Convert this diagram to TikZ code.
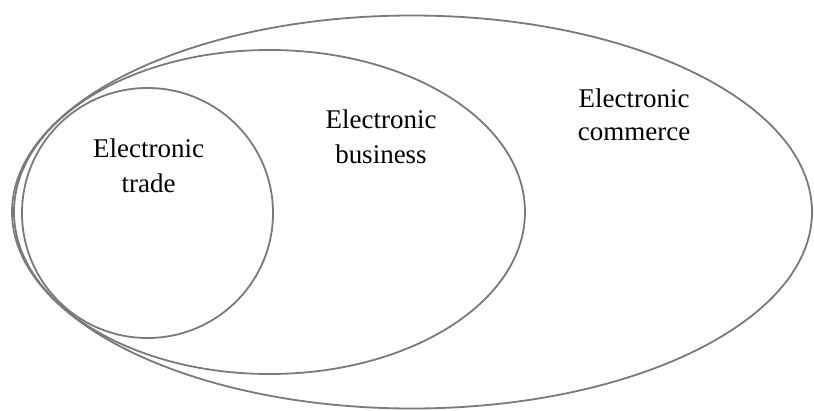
\documentclass[tikz,border=0pt]{standalone}
\usepackage{fontspec}
\setmainfont{Liberation Serif}
\usetikzlibrary{shapes.geometric}
\definecolor{ringgray}{HTML}{7A7A7A}
\begin{document}
\begin{tikzpicture}[x=1pt,y=-1pt,
  ring/.style={draw=ringgray, line width=1.8pt, ellipse, inner sep=0pt, outer sep=0pt},
  lbl/.style={anchor=base, inner sep=0pt, font=\fontsize{27}{35}\selectfont, text=black}]
\useasboundingbox (0,0) rectangle (814,410);
\node[ring, minimum width=800pt, minimum height=393pt] (commerce) at (412,212) {};
\node[ring, minimum width=511pt, minimum height=324pt] (business) at (269.5,212) {};
\node[ring, minimum width=251pt, minimum height=250pt] (trade) at (147.5,213) {};
\node[lbl] (tradeA) at (148.5,157) {Electronic};
\node[lbl] (tradeB) at (148.5,192) {trade};
\node[lbl] (busA) at (381,128) {Electronic};
\node[lbl] (busB) at (381,163) {business};
\node[lbl] (comA) at (634,107) {Electronic};
\node[lbl] (comB) at (634,140) {commerce};
\end{tikzpicture}
\end{document}
